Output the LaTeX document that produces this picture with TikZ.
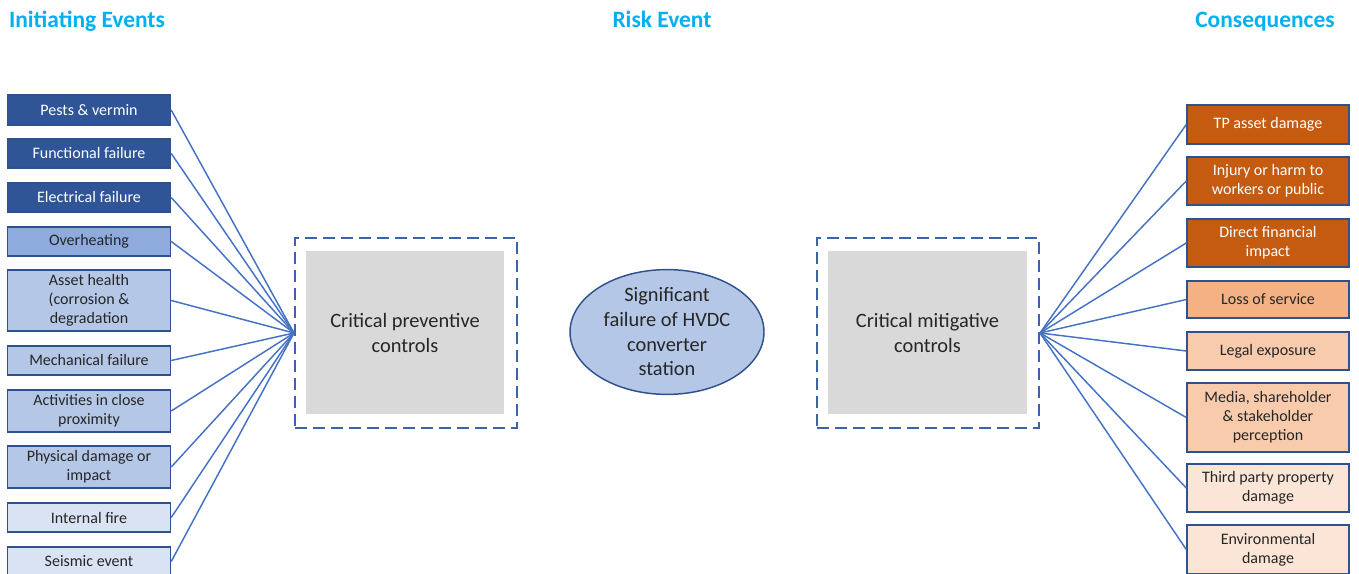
\documentclass[tikz,border=0pt]{standalone}
\usepackage{fontspec}
\setmainfont{Carlito}
\usetikzlibrary{shapes.geometric}
\definecolor{hdr}{HTML}{00B0F0}
\definecolor{bdr}{HTML}{2F528F}
\definecolor{dkb}{HTML}{2F5597}
\definecolor{mdb}{HTML}{8FAADC}
\definecolor{ltb}{HTML}{B4C7E7}
\definecolor{vlb}{HTML}{DAE3F3}
\definecolor{dko}{HTML}{C55A11}
\definecolor{mdo}{HTML}{F4B183}
\definecolor{lto}{HTML}{F8CBAD}
\definecolor{vlo}{HTML}{FBE5D6}
\definecolor{conncol}{HTML}{4472C4}
\definecolor{dashcol}{HTML}{3B64AD}
\definecolor{txt}{HTML}{262626}
\definecolor{grayfill}{HTML}{D9D9D9}
\begin{document}
\begin{tikzpicture}[x=0.75pt,y=-0.75pt,
  hdrtext/.style={anchor=base,text=hdr,font=\fontsize{17.6}{20}\selectfont\bfseries},
  evbox/.style={rectangle,draw=bdr,line width=1.1pt,minimum width=163*0.75pt,inner sep=0pt,align=center,text=txt,font=\fontsize{12}{14.25}\selectfont},
  cqbox/.style={evbox,minimum width=162*0.75pt},
  whitetext/.style={text=white},
  conn/.style={draw=conncol,line width=1.1pt},
  dashbox/.style={rectangle,draw=dashcol,line width=1.5pt,dash pattern=on 9pt off 4.5pt,minimum width=222*0.75pt,minimum height=190*0.75pt,inner sep=0pt},
  graybox/.style={rectangle,fill=grayfill,minimum height=163*0.75pt,inner sep=0pt,align=center,text=txt,font=\fontsize{15.3}{18.75}\selectfont},
  riskev/.style={ellipse,draw=bdr,line width=1.1pt,fill=ltb,minimum width=194*0.75pt,minimum height=114*0.75pt,inner sep=0pt,align=center,text=txt,font=\fontsize{15.3}{18.5}\selectfont}
]
\useasboundingbox (0,0) rectangle (1359,574);

% headings
\node[hdrtext] (h1) at (87,28) {Initiating Events};
\node[hdrtext] (h2) at (662,28) {Risk Event};
\node[hdrtext] (h3) at (1265,28) {Consequences};

% left: initiating events
\node[evbox,fill=dkb,whitetext,minimum height=30*0.75pt] (e1) at (89,110) {Pests \& vermin};
\node[evbox,fill=dkb,whitetext,minimum height=29*0.75pt] (e2) at (89,153.5) {Functional failure};
\node[evbox,fill=dkb,whitetext,minimum height=29*0.75pt] (e3) at (89,197.5) {Electrical failure};
\node[evbox,fill=mdb,minimum height=29*0.75pt] (e4) at (89,241.5) {Overheating};
\node[evbox,fill=ltb,minimum height=61*0.75pt] (e5) at (89,300.5) {Asset health\\(corrosion \&\\degradation};
\node[evbox,fill=ltb,minimum height=29*0.75pt] (e6) at (89,360.5) {Mechanical failure};
\node[evbox,fill=ltb,minimum height=42*0.75pt] (e7) at (89,411) {Activities in close\\proximity};
\node[evbox,fill=ltb,minimum height=42*0.75pt] (e8) at (89,467) {Physical damage or\\impact};
\node[evbox,fill=vlb,minimum height=29*0.75pt] (e9) at (89,517.5) {Internal fire};
\node[evbox,fill=vlb,minimum height=29*0.75pt] (e10) at (89,561.5) {Seismic event};

% preventive controls
\node[graybox,minimum width=198*0.75pt] (pc) at (405,332.5) {Critical preventive\\controls};
\node[dashbox] (lpc) at (406,333) {};

% risk event
\node[riskev] (risk) at (667,332) {Significant\\failure of HVDC\\converter\\station};

% mitigative controls
\node[graybox,minimum width=199*0.75pt] (mc) at (927.5,332.5) {Critical mitigative\\controls};
\node[dashbox] (rmc) at (928,333) {};

% right: consequences
\node[cqbox,fill=dko,whitetext,minimum height=39*0.75pt] (c1) at (1268,124.5) {TP asset damage};
\node[cqbox,fill=dko,whitetext,minimum height=48*0.75pt] (c2) at (1268,181) {Injury or harm to\\workers or public};
\node[cqbox,fill=dko,whitetext,minimum height=48*0.75pt] (c3) at (1268,243) {Direct financial\\impact};
\node[cqbox,fill=mdo,minimum height=37*0.75pt] (c4) at (1268,299.5) {Loss of service};
\node[cqbox,fill=lto,minimum height=38*0.75pt] (c5) at (1268,351) {Legal exposure};
\node[cqbox,fill=lto,minimum height=69*0.75pt] (c6) at (1268,417.5) {Media, shareholder\\\& stakeholder\\perception};
\node[cqbox,fill=vlo,minimum height=48*0.75pt] (c7) at (1268,488) {Third party property\\damage};
\node[cqbox,fill=vlo,minimum height=49*0.75pt] (c8) at (1268,549.5) {Environmental\\damage};

% connectors
\foreach \i in {1,...,10} {\draw[conn] (e\i.east) -- (lpc.west);}
\foreach \i in {1,...,8} {\draw[conn] (rmc.east) -- (c\i.west);}
\end{tikzpicture}
\end{document}
